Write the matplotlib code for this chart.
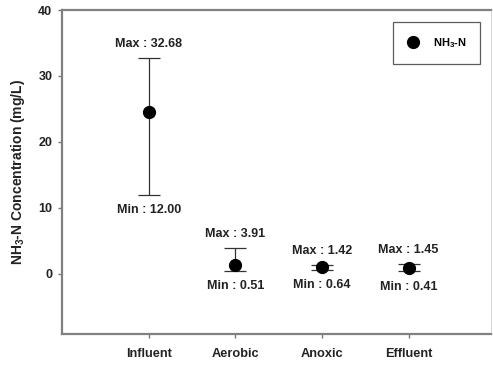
import matplotlib
matplotlib.use("Agg")
import matplotlib.pyplot as plt
from matplotlib.lines import Line2D
import numpy as np

plt.rcParams['font.family'] = ['Liberation Sans', 'DejaVu Sans']
plt.rcParams['mathtext.fontset'] = 'custom'
plt.rcParams['mathtext.rm'] = 'Liberation Sans'
plt.rcParams['mathtext.bf'] = 'Liberation Sans:bold'

# NH3-N concentration at each stage (mg/L)
stages = ["Influent", "Aerobic", "Anoxic", "Effluent"]
mean_vals = [24.6, 1.4, 1.0, 0.9]
min_vals = [12.00, 0.51, 0.64, 0.41]
max_vals = [32.68, 3.91, 1.42, 1.45]

x = np.arange(1, len(stages) + 1)
mean_arr = np.array(mean_vals)
lower = mean_arr - np.array(min_vals)
upper = np.array(max_vals) - mean_arr

fig = plt.figure(figsize=(4.93, 3.65), dpi=100)
ax = fig.add_axes([0.1258, 0.085, 0.870, 0.8876])

ax.errorbar(x, mean_vals, yerr=[lower, upper], fmt='o', color='black',
            markersize=8.5, ecolor='#333333', elinewidth=0.9, capsize=8,
            capthick=0.9, zorder=3)

for xi, lo, hi in zip(x, min_vals, max_vals):
    ax.annotate(f"Max : {hi:.2f}", (xi, hi), xytext=(0, 10),
                textcoords='offset points', ha='center', va='center',
                fontsize=9, fontweight='bold', color='#222222')
    ax.annotate(f"Min : {lo:.2f}", (xi, lo), xytext=(0, -11),
                textcoords='offset points', ha='center', va='center',
                fontsize=9, fontweight='bold', color='#222222')

ax.set_xlim(0, 4.95)
ax.set_ylim(-9.1, 40)
ax.set_xticks(x)
ax.set_xticklabels(stages)
ax.set_yticks([0, 10, 20, 30, 40])

for lbl in ax.get_xticklabels():
    lbl.set_fontweight('bold')
    lbl.set_fontsize(9.2)
    lbl.set_color('#222222')
for lbl in ax.get_yticklabels():
    lbl.set_fontweight('bold')
    lbl.set_fontsize(9)
    lbl.set_color('#222222')

ax.tick_params(axis='both', direction='out', length=3, width=1,
               color='#777777', pad=4)
ax.tick_params(axis='x', pad=7)

for name, sp in ax.spines.items():
    sp.set_color('#808080')
    sp.set_linewidth(1.6)
ax.spines['right'].set_color('#d0d0d0')
ax.spines['right'].set_linewidth(0.6)

ax.set_ylabel(r'NH$_\mathbf{3}$-N Concentration (mg/L)', fontsize=10,
              fontweight='bold', color='#222222', labelpad=8)

handle = Line2D([], [], marker='o', linestyle='none', color='black',
                markersize=8.5)
leg = ax.legend([handle], [r'NH$_\mathbf{3}$-N'], loc='upper right',
                bbox_to_anchor=(0.975, 0.962),
                prop={'weight': 'bold', 'size': 8},
                frameon=True, fancybox=False, borderpad=1.25,
                handletextpad=1.3, handlelength=1.0, borderaxespad=0)
leg.get_frame().set_edgecolor('#333333')
leg.get_frame().set_linewidth(0.9)

fig.savefig("out.png", dpi=100)
